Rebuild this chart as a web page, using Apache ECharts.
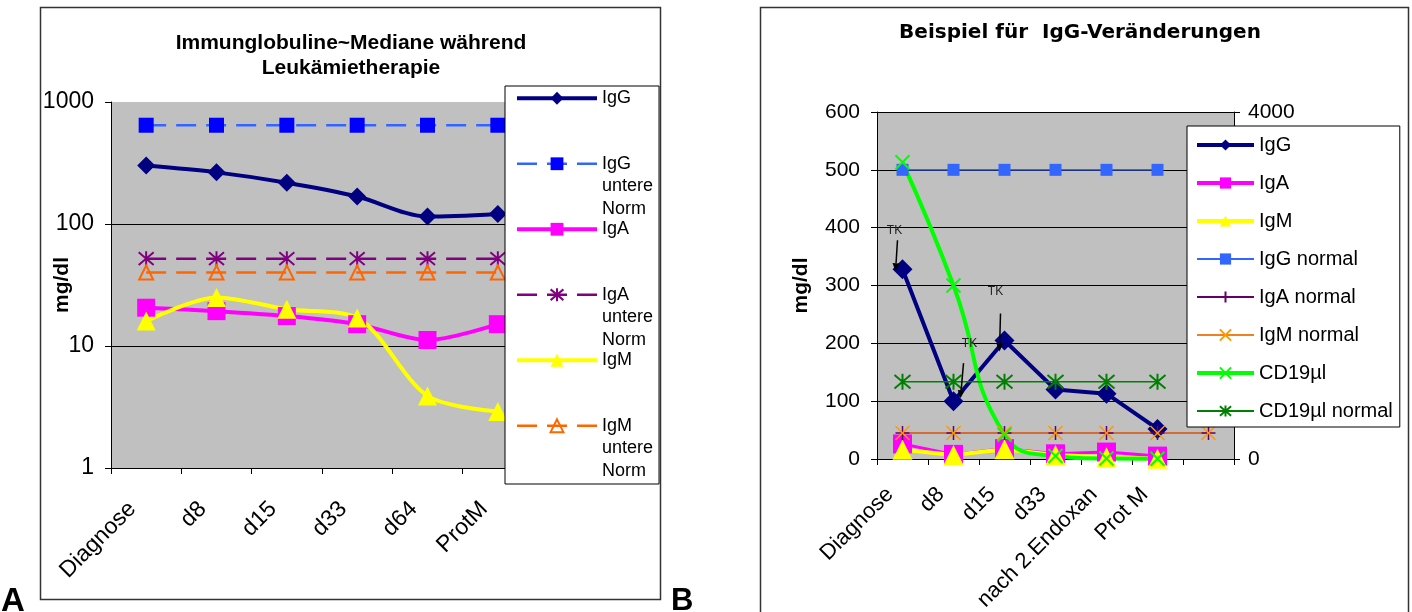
<!DOCTYPE html>
<html>
<head>
<meta charset="utf-8">
<script src="https://cdn.jsdelivr.net/npm/echarts@6/dist/echarts.min.js"></script>
<style>
  html, body { margin: 0; padding: 0; background: #fff; }
  #chart { width: 1412px; height: 612px; }
</style>
</head>
<body>
<div id="chart"></div>
<script>
// ---- Panel A: median immunoglobulin levels during leukaemia therapy (log scale, mg/dl)
const stagesA = ['Diagnose', 'd8', 'd15', 'd33', 'd64', 'ProtM'];
const medianIgG = [301, 265, 218, 168, 115, 121];
const medianIgA = [20.6, 19.3, 17.6, 15.1, 11.2, 15.1];
const medianIgM = [16, 25, 20, 17, 3.9, 2.9];
const lowerNormIgG = [645, 645, 645, 645, 645, 645];
const lowerNormIgA = [52, 52, 52, 52, 52, 52];
const lowerNormIgM = [40, 40, 40, 40, 40, 40];
const logTicksA = [1, 10, 100, 1000];

// ---- Panel B: single patient course (mg/dl left axis, CD19 cells/µl right axis)
const stagesB = ['Diagnose', 'd8', 'd15', 'd33', 'nach 2.Endoxan', 'Prot M', ''];
const caseIgG = [328, 100, 205, 120, 113, 52];
const caseIgA = [26, 8, 18, 9, 12, 5];
const caseIgM = [16, 7, 17, 7, 3, 0.5];
const normalIgG = [500, 500, 500, 500, 500, 500];
const normalIgA = [45, 45, 45, 45, 45, 45, 45];
const normalIgM = [45, 45, 45, 45, 45, 45, 45];
const caseCD19 = [3420, 2000, 280, 35, 5, 3];
const normalCD19 = [890, 890, 890, 890, 890, 890];
const mgTicksB = [0, 600, 100];
const cellTicksB = [0, 4000];
// stages at which a TK was given (annotated on the IgG curve)
const tkStages = ['Diagnose', 'd8', 'd15'];

// label / arrow placement around each annotated IgG point (pixels)
const tkLayout = [
  { text: [-8, -39], from: [-5, -29], to: [-7, 2] },
  { text: [16, -57], from: [10, -38], to: [7, -3] },
  { text: [-9, -49], from: [-4, -27], to: [-5, 11] }
];

const FONT = '"Liberation Sans", Arial, Helvetica, sans-serif';
const STAR = 'path://M5,0L5,10M0.8,0.8L9.2,9.2M9.2,0.8L0.8,9.2';
const PLUS = 'path://M5,0L5,10M0,5L10,5';
const CROSS = 'path://M0,0L10,10M10,0L0,10';
const PLOT_BG = '#C0C0C0';
const DASH = [20, 10];
const plain = v => String(v);

const chart = echarts.init(document.getElementById('chart'), null, { renderer: 'canvas' });

function catAxis(gridIndex, data, fontSize, margin, shift) {
  return {
    type: 'category', gridIndex, data, boundaryGap: true,
    axisLine: { show: true, lineStyle: { color: '#000', width: 1 } },
    axisTick: { show: true, length: 6, inside: false, lineStyle: { color: '#000' } },
    axisLabel: {
      interval: 0, rotate: 45, fontSize, color: '#000', fontFamily: FONT,
      margin, verticalAlign: 'bottom', padding: [0, shift, 0, 0]
    },
    splitLine: { show: false }
  };
}

const option = {
  animation: false,
  textStyle: { fontFamily: FONT },
  title: [
    {
      text: 'Immunglobuline~Mediane während\nLeukämietherapie',
      left: 351, top: 30, textAlign: 'center', padding: 0,
      textStyle: { fontSize: 21, fontWeight: 'bold', color: '#000', lineHeight: 25.5, fontFamily: FONT }
    },
    {
      text: 'Beispiel für  IgG-Veränderungen',
      left: 1080, top: 23, textAlign: 'center', padding: 0,
      textStyle: { fontSize: 20, fontWeight: 'bold', color: '#000', fontFamily: '"DejaVu Sans", ' + FONT }
    }
  ],
  grid: [
    { left: 111, top: 102, width: 422, height: 366, show: true, backgroundColor: PLOT_BG, borderWidth: 0, outerBoundsMode: 'none', containLabel: false },
    { left: 877, top: 112, width: 357, height: 347, show: true, backgroundColor: PLOT_BG, borderWidth: 0, outerBoundsMode: 'none', containLabel: false }
  ],
  xAxis: [
    catAxis(0, stagesA, 23, 40, 8),
    catAxis(1, stagesB, 22, 35, 7)
  ],
  yAxis: [
    {
      type: 'log', gridIndex: 0, logBase: 10,
      min: logTicksA[0], max: logTicksA[logTicksA.length - 1],
      name: 'mg/dl', nameLocation: 'middle', nameGap: 38, nameMoveOverlap: false,
      nameTextStyle: { fontSize: 21, fontWeight: 'bold', color: '#000', fontFamily: FONT },
      axisLine: { show: true, lineStyle: { color: '#000' } },
      axisTick: { show: true, length: 6, lineStyle: { color: '#000' } },
      minorTick: { show: false },
      axisLabel: { fontSize: 23, color: '#000', margin: 17, fontFamily: FONT, formatter: plain },
      splitLine: { show: true, showMaxLine: false, lineStyle: { color: '#000', width: 1 } }
    },
    {
      type: 'value', gridIndex: 1, position: 'left',
      min: mgTicksB[0], max: mgTicksB[1], interval: mgTicksB[2],
      name: 'mg/dl', nameLocation: 'middle', nameGap: 65, nameMoveOverlap: false,
      nameTextStyle: { fontSize: 21, fontWeight: 'bold', color: '#000', fontFamily: FONT },
      axisLine: { show: true, lineStyle: { color: '#000' } },
      axisTick: { show: true, length: 6, lineStyle: { color: '#000' } },
      axisLabel: { fontSize: 21, color: '#000', margin: 17, fontFamily: FONT, formatter: plain },
      splitLine: { show: true, lineStyle: { color: '#000', width: 1 } }
    },
    {
      type: 'value', gridIndex: 1, position: 'right',
      min: cellTicksB[0], max: cellTicksB[1], interval: cellTicksB[1] - cellTicksB[0],
      axisLine: { show: true, lineStyle: { color: '#000' } },
      axisTick: { show: true, length: 6, lineStyle: { color: '#000' } },
      axisLabel: { fontSize: 21, color: '#000', margin: 14, fontFamily: FONT, formatter: plain },
      splitLine: { show: false }
    }
  ],
  legend: [
    {
      data: [
        { name: 'IgG', lineStyle: { width: 4 } },
        { name: 'IgG\nuntere\nNorm', lineStyle: { width: 2.5 } },
        { name: 'IgA', lineStyle: { width: 4 } },
        { name: 'IgA\nuntere\nNorm', lineStyle: { width: 2.5 } },
        { name: 'IgM', lineStyle: { width: 4 } },
        { name: 'IgM\nuntere\nNorm', lineStyle: { width: 2.5 } }
      ],
      orient: 'vertical', left: 505, top: 86,
      padding: [1, 6, 2, 10], itemGap: -2,
      itemWidth: 80, itemHeight: 16,
      backgroundColor: '#fff', borderColor: '#000', borderWidth: 1,
      textStyle: { fontSize: 18, lineHeight: 22.5, color: '#000', fontFamily: FONT },
      formatter: name => (name.indexOf('\n') >= 0 ? '\n\n' + name : name)
    },
    {
      data: [
        { name: 'IgG', lineStyle: { width: 4 } },
        { name: 'IgA', lineStyle: { width: 4 } },
        { name: 'IgM', lineStyle: { width: 4 } },
        { name: 'IgG normal', lineStyle: { width: 2 } },
        { name: 'IgA normal', lineStyle: { width: 2 } },
        { name: 'IgM normal', lineStyle: { width: 2 } },
        { name: 'CD19µl', lineStyle: { width: 4 } },
        { name: 'CD19µl normal', lineStyle: { width: 2 } }
      ],
      orient: 'vertical', left: 1187, top: 126,
      padding: [7, 7, 4, 8], itemGap: 14,
      itemWidth: 57, itemHeight: 14,
      backgroundColor: '#fff', borderColor: '#000', borderWidth: 1,
      textStyle: { fontSize: 20, lineHeight: 24, color: '#000', fontFamily: FONT }
    }
  ],
  series: [
    // Panel A
    {
      name: 'IgG', type: 'line', xAxisIndex: 0, yAxisIndex: 0, data: medianIgG, smooth: 0.3,
      symbol: 'diamond', symbolSize: 18,
      lineStyle: { color: '#000080', width: 4 }, itemStyle: { color: '#000080' }
    },
    {
      name: 'IgG\nuntere\nNorm', type: 'line', xAxisIndex: 0, yAxisIndex: 0, data: lowerNormIgG,
      symbol: 'rect', symbolSize: 15,
      lineStyle: { color: '#3366FF', width: 2.5, type: DASH }, itemStyle: { color: '#0000FF' }
    },
    {
      name: 'IgA', type: 'line', xAxisIndex: 0, yAxisIndex: 0, data: medianIgA, smooth: 0.3,
      symbol: 'rect', symbolSize: 18,
      lineStyle: { color: '#FF00FF', width: 4 }, itemStyle: { color: '#FF00FF' }
    },
    {
      name: 'IgA\nuntere\nNorm', type: 'line', xAxisIndex: 0, yAxisIndex: 0, data: lowerNormIgA,
      symbol: STAR, symbolSize: 15,
      lineStyle: { color: '#800080', width: 2.5, type: DASH },
      itemStyle: { color: 'rgba(0,0,0,0)', borderColor: '#800080', borderWidth: 2 }
    },
    {
      name: 'IgM', type: 'line', xAxisIndex: 0, yAxisIndex: 0, data: medianIgM, smooth: 0.3,
      symbol: 'triangle', symbolSize: 19,
      lineStyle: { color: '#FFFF00', width: 4 }, itemStyle: { color: '#FFFF00' }
    },
    {
      name: 'IgM\nuntere\nNorm', type: 'line', xAxisIndex: 0, yAxisIndex: 0, data: lowerNormIgM,
      symbol: 'triangle', symbolSize: 14,
      lineStyle: { color: '#FF6600', width: 2.5, type: DASH },
      itemStyle: { color: 'rgba(0,0,0,0)', borderColor: '#FF6600', borderWidth: 2 }
    },
    // Panel B
    {
      name: 'IgG', type: 'line', xAxisIndex: 1, yAxisIndex: 1, data: caseIgG,
      symbol: 'diamond', symbolSize: 20,
      lineStyle: { color: '#000080', width: 4 }, itemStyle: { color: '#000080' }
    },
    {
      name: 'IgA', type: 'line', xAxisIndex: 1, yAxisIndex: 1, data: caseIgA,
      symbol: 'rect', symbolSize: 19,
      lineStyle: { color: '#FF00FF', width: 3 }, itemStyle: { color: '#FF00FF' }
    },
    {
      name: 'IgM', type: 'line', xAxisIndex: 1, yAxisIndex: 1, data: caseIgM,
      symbol: 'triangle', symbolSize: 20,
      lineStyle: { color: '#FFFF00', width: 4 }, itemStyle: { color: '#FFFF00' }
    },
    {
      name: 'IgG normal', type: 'line', xAxisIndex: 1, yAxisIndex: 1, data: normalIgG,
      symbol: 'rect', symbolSize: 12,
      lineStyle: { color: '#3366FF', width: 1.5 }, itemStyle: { color: '#3366FF' }
    },
    {
      name: 'IgA normal', type: 'line', xAxisIndex: 1, yAxisIndex: 1, data: normalIgA,
      symbol: PLUS, symbolSize: 14,
      lineStyle: { color: '#660066', width: 1.5 },
      itemStyle: { color: 'rgba(0,0,0,0)', borderColor: '#660066', borderWidth: 1.5 }
    },
    {
      name: 'IgM normal', type: 'line', xAxisIndex: 1, yAxisIndex: 1, data: normalIgM,
      symbol: CROSS, symbolSize: 14,
      lineStyle: { color: '#F08020', width: 1.5 },
      itemStyle: { color: 'rgba(0,0,0,0)', borderColor: '#FF9900', borderWidth: 1.5 }
    },
    {
      name: 'CD19µl', type: 'line', xAxisIndex: 1, yAxisIndex: 2, data: caseCD19, smooth: 0.5,
      symbol: CROSS, symbolSize: 14,
      lineStyle: { color: '#00FF00', width: 4 },
      itemStyle: { color: 'rgba(0,0,0,0)', borderColor: '#00FF00', borderWidth: 2 }
    },
    {
      name: 'CD19µl normal', type: 'line', xAxisIndex: 1, yAxisIndex: 2, data: normalCD19,
      symbol: STAR, symbolSize: 16,
      lineStyle: { color: '#008000', width: 1.5 },
      itemStyle: { color: 'rgba(0,0,0,0)', borderColor: '#008000', borderWidth: 2 }
    }
  ]
};

chart.setOption(option);

// Frames, panel letters and TK annotations
const graphics = [
  { type: 'rect', z: 0, silent: true, shape: { x: 40.5, y: 7.5, width: 620, height: 592 },
    style: { fill: 'none', stroke: '#333', lineWidth: 1.5 } },
  { type: 'rect', z: 0, silent: true, shape: { x: 760.5, y: 7.5, width: 648, height: 640 },
    style: { fill: 'none', stroke: '#333', lineWidth: 1.5 } },
  { type: 'text', z: 10, x: 1, y: 618,
    style: { text: 'A', fontSize: 33, fontWeight: 'bold', fontFamily: FONT, fill: '#000', verticalAlign: 'bottom' } },
  { type: 'text', z: 10, x: 671, y: 617,
    style: { text: 'B', fontSize: 31, fontWeight: 'bold', fontFamily: FONT, fill: '#000', verticalAlign: 'bottom' } }
];

tkStages.forEach((stage, i) => {
  const idx = stagesB.indexOf(stage);
  const p = chart.convertToPixel({ xAxisIndex: 1, yAxisIndex: 1 }, [idx, caseIgG[idx]]);
  const L = tkLayout[i];
  const s = [p[0] + L.from[0], p[1] + L.from[1]];
  const e = [p[0] + L.to[0], p[1] + L.to[1]];
  const dx = e[0] - s[0], dy = e[1] - s[1];
  const len = Math.hypot(dx, dy);
  const ux = dx / len, uy = dy / len;
  const head = 8, half = 3.5;
  const bx = e[0] - ux * head, by = e[1] - uy * head;
  graphics.push(
    { type: 'text', z: 20, x: p[0] + L.text[0], y: p[1] + L.text[1],
      style: { text: 'TK', fontSize: 12, fontFamily: FONT, fill: '#222', align: 'center', verticalAlign: 'middle' } },
    { type: 'line', z: 20, shape: { x1: s[0], y1: s[1], x2: bx, y2: by },
      style: { stroke: '#000', lineWidth: 1.5 } },
    { type: 'polygon', z: 20,
      shape: { points: [[e[0], e[1]], [bx - uy * half, by + ux * half], [bx + uy * half, by - ux * half]] },
      style: { fill: '#000' } }
  );
});

chart.setOption({ graphic: graphics });
</script>
</body>
</html>
